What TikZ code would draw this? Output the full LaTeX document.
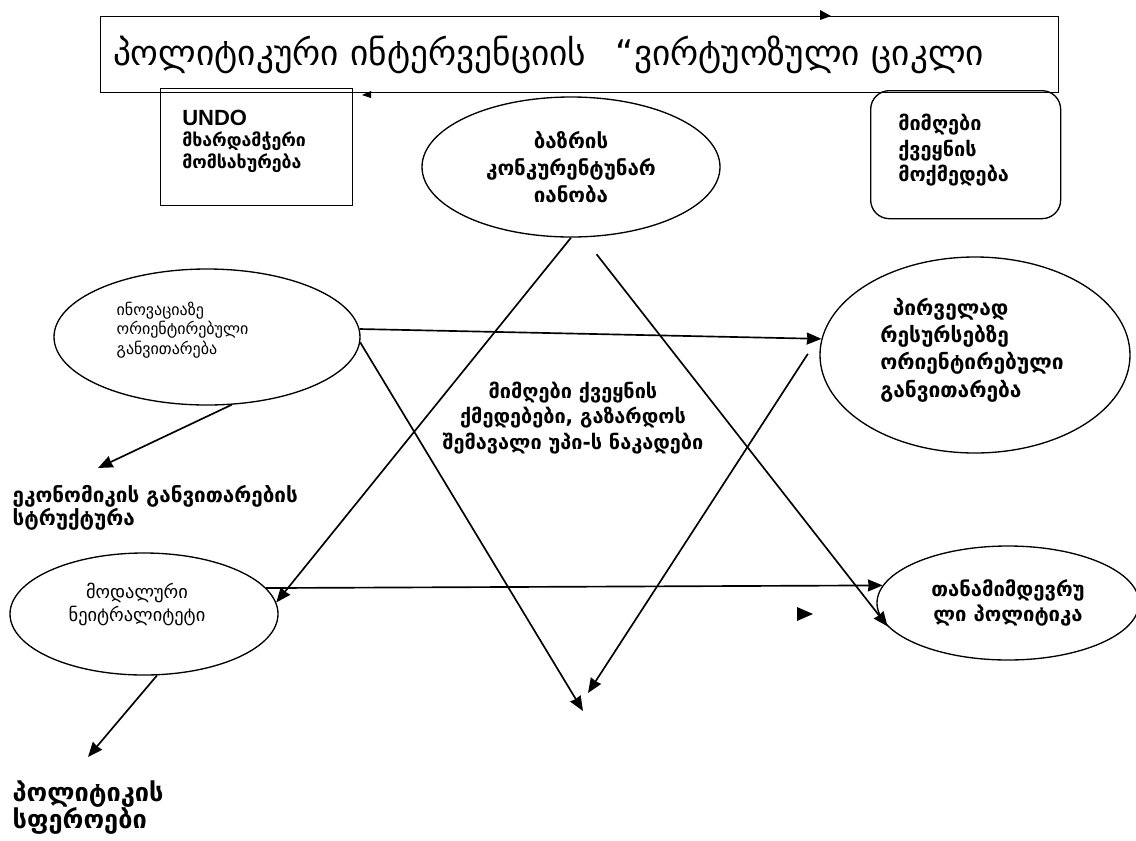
\documentclass[tikz,border=0pt]{standalone}
\usepackage{fontspec}
\setmainfont{DejaVu Sans}
\newfontfamily\arialfont{Liberation Sans}
\usetikzlibrary{shapes.geometric,arrows.meta}

\tikzset{
  link/.style={->,>={Stealth[length=11pt,width=9pt,inset=0.5pt]},line width=1.25pt},
  oval/.style={draw, ellipse, line width=1pt, inner sep=0pt, align=center},
  frame/.style={draw, rectangle, anchor=north west, line width=1pt},
  light/.style={font=\fontsize{12}{14.6}\selectfont},
}

\begin{document}
\begin{tikzpicture}[x=0.75pt,y=-0.75pt]
\useasboundingbox (0,0) rectangle (1136,840);

% boxes at the top
\node[frame, minimum width=718.5pt, minimum height=57pt, text width=700pt, inner xsep=9.25pt, align=left, font=\fontsize{26.5}{30}\selectfont] (title) at (100,16) {პოლიტიკური ინტერვენციის\hspace{0.5em} “ვირტუოზული ციკლი};
\node[frame, minimum width=144pt, minimum height=87.75pt] (undo) at (160,88) {};
\node[anchor=north west, align=left, font=\bfseries\fontsize{13.3}{16}\selectfont, inner sep=0pt] (undotext) at (182,110) {{\arialfont\fontsize{16.5}{16}\selectfont UNDO}\\მხარდამჭერი\\მომსახურება};
\node[oval, minimum width=223.5pt, minimum height=105pt, font=\bfseries\fontsize{15.4}{20}\selectfont] (baz) at (571,167) {ბაზრის\\კონკურენტუნარ\\იანობა};
\node[frame, rounded corners=14pt, minimum width=142.5pt, minimum height=96pt] (recv) at (870,90) {};
\node[anchor=north west, align=left, font=\bfseries\fontsize{14.9}{19}\selectfont, inner sep=0pt] (recvtext) at (898,114) {მიმღები\\ქვეყნის\\მოქმედება};

% middle row
\node[oval, minimum width=229.5pt, minimum height=102pt] (inov) at (207,337) {};
\node[anchor=west, align=left, light] (inovtext) at (112,330) {ინოვაციაზე\\ორიენტირებული\\განვითარება};
\node[oval, minimum width=232.5pt, minimum height=147pt] (prim) at (975,355) {};
\node[anchor=west, align=left, inner sep=0pt, font=\bfseries\fontsize{15.7}{20.5}\selectfont] (primtext) at (880,350) {\hspace*{0.6em}პირველად\\რესურსებზე\\ორიენტირებული\\განვითარება};
\node[align=center, font=\bfseries\fontsize{14.9}{19.2}\selectfont] (flows) at (573,418) {მიმღები ქვეყნის\\ქმედებები, გაზარდოს\\შემავალი უპი-ს ნაკადები};
\node[anchor=north west, align=left, font=\bfseries\fontsize{15.5}{17.3}\selectfont] (econ) at (8,481) {ეკონომიკის განვითარების\\სტრუქტურა};

% bottom row
\node[oval, minimum width=201pt, minimum height=91.5pt] (modal) at (144,614) {};
\node[align=center, font=\fontsize{13.8}{17.3}\selectfont] (modaltext) at (137,604) {მოდალური\\ნეიტრალიტეტი};
\node[oval, minimum width=196.5pt, minimum height=85.5pt, font=\bfseries\fontsize{15.2}{18.8}\selectfont] (than) at (1008,603) {თანამიმდევრუ\\ლი პოლიტიკა};
\node[anchor=north west, align=left, font=\bfseries\fontsize{19}{20.3}\selectfont] (pol) at (8,776) {პოლიტიკის\\სფეროები};

\coordinate (econtip) at (98,468);
\coordinate (poltip) at (88,757);
\coordinate (meetA) at (583,711);
\coordinate (meetB) at (588,693);

% connectors
\draw [link] (inov.3) -- (prim.174);
\draw [link] (inov.-2) -- (meetA);
\draw [link] (inov.-70) -- (econtip);
\draw [link] (baz.south) -- (modal.5);
\draw [link, shorten <=16pt] (baz.-80) -- (than.191);
\draw [link, shorten <=27pt] (prim.168) -- (meetB);
\draw [link] (modal.12) -- (than.172);
\draw [link] (modal.-78) -- (poltip);

% loose arrow tips
\fill (797,607) -- (813,614) -- (797,621) -- cycle;
\fill (820,10) -- (831,16) -- (820,20) -- cycle;
\fill (362,95) -- (371,91) -- (371,98) -- cycle;
\end{tikzpicture}
\end{document}
